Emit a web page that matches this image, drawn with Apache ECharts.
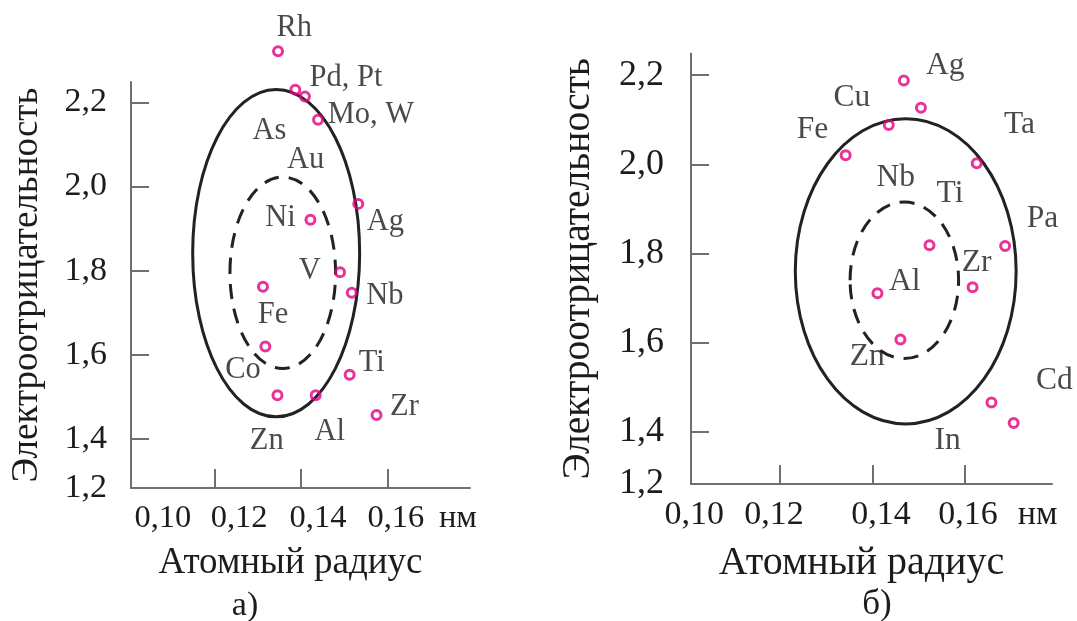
<!DOCTYPE html>
<html><head><meta charset="utf-8">
<script src="https://cdn.jsdelivr.net/npm/echarts@6/dist/echarts.min.js"></script>
<style>html,body{margin:0;padding:0;background:#fff}#c{width:1077px;height:621px}</style>
</head><body><div id="c"></div><script>
// ---- shared axis texts ----
const xTickValues = [0.12, 0.14, 0.16];
const yTickValues = [1.4, 1.6, 1.8, 2.0, 2.2];
const xTickLabels = ['0,10', '0,12', '0,14', '0,16', 'нм'];
const yTickLabels = ['1,2', '1,4', '1,6', '1,8', '2,0', '2,2'];

// ---- panel а) ----
const aPoints = [
  [0.13464, 2.322], [0.13865, 2.230], [0.14088, 2.214], [0.14392, 2.1587],
  [0.15326, 1.9588], [0.14216, 1.9211], [0.14903, 1.7964], [0.15175, 1.7475],
  [0.13113, 1.7615], [0.13169, 1.6198], [0.15126, 1.5524], [0.13450, 1.5035],
  [0.14337, 1.5035], [0.15750, 1.4565]
];
const aNames = ['Rh', 'Pd, Pt', 'Mo, W', 'As', 'Au', 'Ni', 'Ag', 'V', 'Nb', 'Fe', 'Co', 'Ti', 'Zn', 'Al', 'Zr'];
const aNamePos = [
  [0.13840, 2.3764], [0.15040, 2.2572], [0.15620, 2.1699], [0.13264, 2.1323],
  [0.14104, 2.0621], [0.13522, 1.9258], [0.15957, 1.9166], [0.14200, 1.7990],
  [0.15943, 1.7399], [0.13345, 1.6941], [0.12649, 1.5645], [0.15639, 1.5804],
  [0.13201, 1.3955], [0.14664, 1.4161], [0.16398, 1.4752]
];
// ellipses: centre x, centre y, half-width, half-height, dashed
const aEllipses = [[0.1342, 1.8415, 0.01938, 0.3893, 0], [0.13573, 1.795, 0.01226, 0.2277, 1]];
const aXRange = [0.1005, 0.1792];
const aYRange = [1.283, 2.2487];
const aXLabelAt = [0.1079, 0.1256, 0.1439, 0.1620, 0.1764];
const aYLabelAt = [1.283, 1.4, 1.6, 1.8, 2.0, 2.2];

// ---- panel б) ----
const bPoints = [
  [0.14685, 2.1883], [0.15056, 2.1270], [0.14358, 2.0880], [0.13423, 2.0204],
  [0.16266, 2.0025], [0.15242, 1.8186], [0.16883, 1.8168], [0.16177, 1.7243],
  [0.14113, 1.7109], [0.14611, 1.6069], [0.16586, 1.4655], [0.17068, 1.4193]
];
const bNames = ['Ag', 'Cu', 'Fe', 'Ta', 'Nb', 'Ti', 'Pa', 'Zr', 'Al', 'Zn', 'Cd', 'In'];
const bNamePos = [
  [0.15583, 2.2222], [0.13556, 2.1493], [0.12704, 2.0781], [0.17196, 2.0887],
  [0.14507, 1.9706], [0.15687, 1.9349], [0.17692, 1.8772], [0.16266, 1.7802],
  [0.14707, 1.7358], [0.13889, 1.5688], [0.17952, 1.5136], [0.15635, 1.3802]
];
const bEllipses = [[0.14726, 1.7598, 0.02396, 0.3423, 0], [0.14696, 1.7398, 0.01177, 0.1755, 1]];
const bXRange = [0.10067, 0.1790];
const bYRange = [1.2826, 2.2487];
const bXLabelAt = [0.1014, 0.1187, 0.1419, 0.1608, 0.1759];
const bYLabelAt = [1.2826, 1.4, 1.6, 1.8, 2.0, 2.2];

const xName = 'Атомный радиус';
const yName = 'Электроотрицательность';
const captions = ['а)', 'б)'];

// ---- styles ----
const FONT = "'Liberation Serif', 'DejaVu Serif', serif";
const TXT = '#1c1c1c';
const AXC = '#6f6f6f';
const MARK = '#e4007f';

function nearestText(v, at, texts) {
  let bi = 0, bd = Infinity;
  at.forEach((a, i) => { const d = Math.abs(a - v); if (d < bd) { bd = d; bi = i; } });
  return texts[bi];
}

function makeX(idx, range, labelAt, fs, nameGap, fsName) {
  return {
    type: 'value', gridIndex: idx, min: range[0], max: range[1],
    axisLine: { show: true, onZero: false, lineStyle: { color: AXC, width: 2 } },
    axisTick: { show: true, inside: true, length: 19, customValues: xTickValues, lineStyle: { color: AXC, width: 2 } },
    axisLabel: {
      show: true, customValues: labelAt, margin: 14,
      formatter: v => nearestText(v, labelAt, xTickLabels),
      fontFamily: FONT, fontSize: fs, color: TXT
    },
    splitLine: { show: false },
    name: xName, nameLocation: 'middle', nameGap: nameGap,
    nameTextStyle: { fontFamily: FONT, fontSize: fsName, color: TXT, padding: [0, 20, 0, 0] }
  };
}
function makeY(idx, range, labelAt, fs, margin, nameGap, fsName) {
  return {
    type: 'value', gridIndex: idx, min: range[0], max: range[1],
    axisLine: { show: true, onZero: false, lineStyle: { color: AXC, width: 2 } },
    axisTick: { show: true, inside: true, length: 18, customValues: yTickValues, lineStyle: { color: AXC, width: 2 } },
    axisLabel: {
      show: true, customValues: labelAt, margin: margin,
      formatter: v => nearestText(v, labelAt, yTickLabels),
      fontFamily: FONT, fontSize: fs, color: TXT
    },
    splitLine: { show: false },
    name: yName, nameLocation: 'middle', nameGap: nameGap, nameRotate: 90,
    nameTextStyle: { fontFamily: FONT, fontSize: fsName, color: TXT }
  };
}

function ellipseSeries(idx, data) {
  return {
    type: 'custom', xAxisIndex: idx, yAxisIndex: idx, silent: true, clip: false,
    encode: { x: 0, y: 1 },
    data: data,
    renderItem: function (params, api) {
      const c = api.coord([api.value(0), api.value(1)]);
      const s = api.size([api.value(2), api.value(3)]);
      return {
        type: 'ellipse',
        shape: { cx: c[0], cy: c[1], rx: s[0], ry: s[1] },
        style: { fill: 'none', stroke: '#222', lineWidth: 3, lineDash: api.value(4) ? [15, 10] : null }
      };
    },
    z: 1
  };
}
function pointSeries(idx, data) {
  return {
    type: 'scatter', xAxisIndex: idx, yAxisIndex: idx, silent: true, clip: false,
    data: data, symbol: 'circle', symbolSize: 9,
    itemStyle: { color: 'rgba(255,255,255,0)', borderColor: MARK, borderWidth: 3 },
    z: 3
  };
}
function labelSeries(idx, names, pos, fs) {
  return {
    type: 'scatter', xAxisIndex: idx, yAxisIndex: idx, silent: true, clip: false,
    data: names.map((n, i) => ({ name: n, value: pos[i] })),
    symbolSize: 1, itemStyle: { color: 'rgba(0,0,0,0)' },
    label: { show: true, position: 'inside', formatter: '{b}', fontFamily: FONT, fontSize: fs, color: TXT },
    z: 2
  };
}

const chart = echarts.init(document.getElementById('c'), null, { renderer: 'canvas' });
chart.setOption({
  animation: false,
  backgroundColor: '#fff',
  grid: [
    { left: 131, top: 82, width: 339, height: 406, containLabel: false },
    { left: 691, top: 53.5, width: 361, height: 430.5, containLabel: false }
  ],
  xAxis: [makeX(0, aXRange, aXLabelAt, 32.5, 57, 37), makeX(1, bXRange, bXLabelAt, 34, 59, 40)],
  yAxis: [makeY(0, aYRange, aYLabelAt, 34, 24, 85, 37), makeY(1, bYRange, bYLabelAt, 36, 27, 92, 39.5)],
  series: [
    ellipseSeries(0, aEllipses), labelSeries(0, aNames, aNamePos, 30.5), pointSeries(0, aPoints),
    ellipseSeries(1, bEllipses), labelSeries(1, bNames, bNamePos, 31.5), pointSeries(1, bPoints)
  ],
  graphic: [
    { type: 'text', x: 245, y: 606, style: { text: captions[0], textAlign: 'center', textVerticalAlign: 'middle', font: "34px 'Liberation Serif'", fill: TXT } },
    { type: 'text', x: 877, y: 605, style: { text: captions[1], textAlign: 'center', textVerticalAlign: 'middle', font: "35px 'Liberation Serif'", fill: TXT } }
  ]
});
</script></body></html>
